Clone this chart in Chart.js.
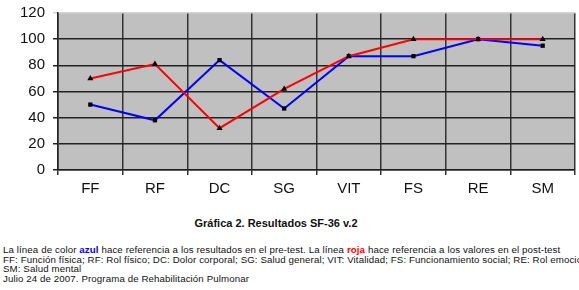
<!DOCTYPE html>
<html>
<head>
<meta charset="utf-8">
<script src="https://cdn.jsdelivr.net/npm/chart.js@4"></script>
<style>
  body { margin: 0; background: #fff; width: 579px; height: 290px; overflow: hidden; position: relative; font-family: "Liberation Sans", Arial, sans-serif; }
  #wrap { position: absolute; left: 0; top: 0; width: 579px; height: 205px; }
  #titulo { position: absolute; left: 0; width: 552px; top: 217px; text-align: center; font-weight: bold; font-size: 11px; color: #111; }
  #notas { position: absolute; left: 3px; top: 245px; font-size: 9.7px; letter-spacing: 0.11px; line-height: 9.6px; color: #111; white-space: nowrap; }
  .azul { color: #0000ff; font-weight: bold; }
  .roja { color: #ff0000; font-weight: bold; }
</style>
</head>
<body>
<div id="wrap"><canvas id="grafica"></canvas></div>
<div id="titulo">Gráfica 2. Resultados SF-36 v.2</div>
<div id="notas">
  La línea de color <span class="azul">azul</span> hace referencia a los resultados en el pre-test. La línea <span class="roja">roja</span> hace referencia a los valores en el post-test<br>
  FF: Función física; RF: Rol físico; DC: Dolor corporal; SG: Salud general; VIT: Vitalidad; FS: Funcionamiento social; RE: Rol emocional<br>
  SM: Salud mental<br>
  Julio 24 de 2007. Programa de Rehabilitación Pulmonar
</div>
<script>
// categorias y valores
const categorias = ['FF', 'RF', 'DC', 'SG', 'VIT', 'FS', 'RE', 'SM'];
const preTest = [50, 38, 84, 47, 87, 87, 100, 95];
const postTest = [70, 81, 32, 62, 87, 100, 100, 100];
const ticksY = [0, 20, 40, 60, 80, 100, 120];

document.addEventListener('DOMContentLoaded', function () {
    const ctx = document.getElementById('grafica').getContext('2d');

    // fondo gris del area de trazado
    const fondoGris = {
        id: 'fondoGris',
        beforeDraw(chart) {
            const a = chart.chartArea;
            const c = chart.ctx;
            c.save();
            c.fillStyle = '#c0c0c0';
            c.fillRect(a.left, a.top, a.right - a.left, a.bottom - a.top);
            c.restore();
        }
    };

    new Chart(ctx, {
        type: 'line',
        data: {
            labels: categorias,
            datasets: [{
                label: 'Post-test',
                data: postTest,
                borderColor: '#ff0000',
                borderWidth: 2,
                pointStyle: 'triangle',
                pointRadius: 3.5,
                pointBackgroundColor: '#000',
                pointBorderColor: '#000',
                pointBorderWidth: 0,
                tension: 0
            }, {
                label: 'Pre-test',
                data: preTest,
                borderColor: '#0000ff',
                borderWidth: 2,
                pointStyle: 'rect',
                pointRadius: 3,
                pointBackgroundColor: '#000',
                pointBorderColor: '#000',
                pointBorderWidth: 0,
                tension: 0
            }]
        },
        options: {
            responsive: true,
            maintainAspectRatio: false,
            animation: false,
            layout: { padding: { top: 13, right: 4, left: 0, bottom: 0 } },
            plugins: {
                legend: { display: false },
                tooltip: { enabled: false }
            },
            scales: {
                x: {
                    offset: true,
                    grid: {
                        offset: true,
                        color: '#333',
                        lineWidth: 1.5,
                        tickLength: 5
                    },
                    border: { color: '#222', width: 1.5 },
                    ticks: {
                        color: '#111',
                        font: { family: 'Liberation Sans, Arial', size: 15 },
                        padding: 5,
                        maxRotation: 0
                    },
                    afterFit(scale) { scale.height = 35; }
                },
                y: {
                    min: 0,
                    max: 120,
                    afterBuildTicks(scale) { scale.ticks = ticksY.map(v => ({ value: v })); },
                    grid: {
                        color: (c) => (c.tick && c.tick.value === 120 ? '#d4d4d4' : '#222'),
                        lineWidth: 1.5,
                        tickLength: 5
                    },
                    border: { color: '#222', width: 1.5 },
                    ticks: {
                        color: '#111',
                        font: { family: 'Liberation Sans, Arial', size: 15 },
                        padding: 8
                    },
                    afterFit(scale) {
                        scale.width = 58;
                        scale.paddingTop = 0;
                        scale.paddingBottom = 0;
                    }
                }
            }
        },
        plugins: [fondoGris]
    });
});
</script>
</body>
</html>
